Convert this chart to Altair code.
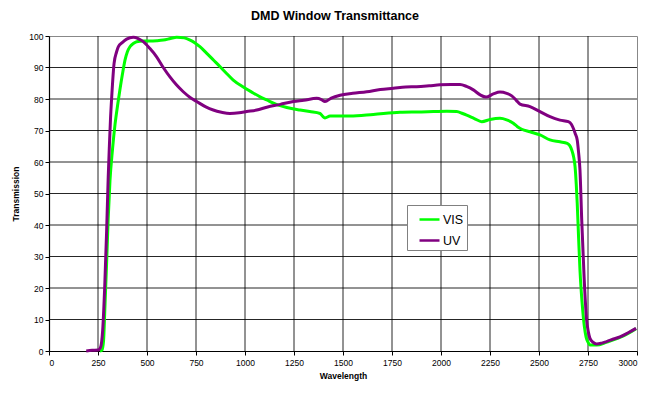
import altair as alt
import pandas as pd

vis_x = [260, 270, 278, 286, 294, 302, 311, 324, 337, 350, 362, 375, 388, 400, 413, 430, 447, 480, 515, 550,
         583, 620, 651, 690, 720, 745, 770, 805, 840, 872, 900, 940, 991, 1040, 1077, 1111, 1160, 1213, 1250,
         1281, 1330, 1383, 1395, 1408, 1434, 1536, 1655, 1791, 1900, 1961, 2030, 2080, 2110, 2131, 2170, 2208,
         2250, 2301, 2335, 2369, 2390, 2412, 2454, 2505, 2556, 2607, 2644, 2657, 2667, 2677, 2684, 2690, 2695,
         2702, 2709, 2716, 2723, 2731, 2740, 2750, 2760, 2794, 2845, 2913, 2955, 2995]
vis_y = [0, 0.3, 3, 15, 28, 42, 54, 64, 72, 78, 83, 88, 92.4, 95, 96.6, 97.6, 98.2, 98.4, 98.4, 98.5,
         98.7, 99.2, 99.6, 99.4, 98.7, 97.8, 96.6, 94.5, 92.3, 90.3, 88.5, 86, 83.8, 82, 80.7, 79.7, 78.3, 77.3, 76.8,
         76.5, 76, 75.4, 74.6, 74, 74.6, 74.6, 75.1, 75.8, 75.9, 76, 76.1, 76, 75.4, 74.9, 73.8, 72.8,
         73.5, 73.9, 73.4, 72.3, 71.2, 70.4, 69.6, 68.6, 67, 66.4, 65.9, 65.2, 63.8, 61.5, 58.5, 53, 46.9,
         36, 25.7, 18.5, 13, 8, 4.5, 2.8, 1.9, 1.9, 2.8, 4.3, 5.6, 7.1]

uv_x = [190, 220, 250, 262, 274, 284, 294, 302, 308, 314, 320, 332, 345, 354, 375, 396, 430, 455, 481, 515,
        549, 583, 617, 650, 685, 720, 754, 800, 838, 880, 923, 970, 1009, 1060, 1111, 1180, 1247, 1300, 1366,
        1390, 1408, 1440, 1485, 1550, 1621, 1690, 1757, 1820, 1876, 1940, 1995, 2050, 2097, 2130, 2165, 2200,
        2230, 2267, 2301, 2335, 2361, 2385, 2403, 2454, 2505, 2556, 2607, 2650, 2665, 2675, 2685, 2695, 2702,
        2709, 2718, 2730, 2743, 2752, 2760, 2775, 2794, 2820, 2845, 2880, 2913, 2955, 2995]
uv_y = [0, 0.2, 0.3, 1, 6.7, 20, 38, 55, 65, 74, 80.7, 91.3, 95, 96.6, 98, 99, 99.6, 99.2, 98.2, 96,
        93.4, 90, 87, 84.5, 82.3, 80.5, 79.2, 77.5, 76.5, 75.8, 75.4, 75.6, 76, 76.5, 77.4, 78.3, 79.2, 79.6, 80.2,
        79.8, 79.2, 80.3, 81.2, 81.8, 82.3, 83, 83.4, 83.8, 83.9, 84.2, 84.5, 84.6, 84.6, 84, 82.9, 81.3,
        80.6, 81.6, 82.2, 81.8, 81, 79.5, 78.4, 77.6, 76, 74.4, 73.3, 72.8, 72, 70.7, 69, 67, 63,
        57.5, 41.6, 23.6, 9.8, 6, 4, 2.8, 2.2, 2.5, 3, 3.8, 4.5, 5.8, 7.2]

x_ticks = list(range(0, 3001, 250))
y_ticks = list(range(0, 101, 10))

series = ["VIS", "UV"]
colors = ["#00FF00", "#800080"]

df = pd.concat([
    pd.DataFrame({"Wavelength": vis_x, "Transmission": vis_y, "Series": "VIS", "order": range(len(vis_x))}),
    pd.DataFrame({"Wavelength": uv_x, "Transmission": uv_y, "Series": "UV", "order": range(len(uv_x))}),
], ignore_index=True)

FONT = "Liberation Sans"
xscale = alt.Scale(domain=[0, 3000], nice=False)
yscale = alt.Scale(domain=[0, 100], nice=False)
xaxis = alt.Axis(values=x_ticks, format="d", title="Wavelength", grid=False)
yaxis = alt.Axis(values=y_ticks, format="d", title="Transmission", grid=False)

vgrid = alt.Chart(pd.DataFrame({"g": x_ticks[1:-1]})).mark_rule(
    color="#000000", strokeWidth=1, opacity=0.85
).encode(x=alt.X("g:Q", scale=xscale, axis=xaxis))

hgrid = alt.Chart(pd.DataFrame({"g": y_ticks[1:-1]})).mark_rule(
    color="#000000", strokeWidth=1, opacity=0.85
).encode(y=alt.Y("g:Q", scale=yscale, axis=yaxis))

lines = alt.Chart(df).mark_line(strokeWidth=3, interpolate="monotone").encode(
    x=alt.X("Wavelength:Q", scale=xscale, axis=xaxis),
    y=alt.Y("Transmission:Q", scale=yscale, axis=yaxis),
    color=alt.Color("Series:N", sort=series,
                    scale=alt.Scale(domain=series, range=colors),
                    legend=alt.Legend(title=None, orient="none", legendX=358, legendY=169,
                                      strokeColor="#808080", padding=3, fillColor="#ffffff",
                                      symbolType="stroke", symbolStrokeWidth=2.5, symbolSize=400,
                                      symbolOffset=8,
                                      labelFontSize=12.5, labelColor="#000", labelFont=FONT,
                                      rowPadding=3, labelOffset=2)),
    order="order:Q",
)

chart = alt.layer(vgrid, hgrid, lines).properties(
    width=588, height=315,
    title=alt.TitleParams("DMD Window Transmittance", font=FONT, fontSize=12.5,
                          fontWeight="bold", color="#000", offset=9, dx=-8),
    autosize=alt.AutoSizeParams(type="none"),
    padding={"left": 41, "top": 28, "right": 26, "bottom": 35},
).configure_view(
    stroke="#888888", strokeWidth=1
).configure_axis(
    domainColor="#000", domainWidth=1.2,
    tickColor="#000", tickSize=4,
    labelFont=FONT, labelFontSize=8.5, labelColor="#000",
    titleFont=FONT, titleFontSize=8.5, titleFontWeight="bold", titleColor="#000",
).configure_axisX(
    labelPadding=3, titlePadding=5
).configure_axisY(
    labelPadding=2, titlePadding=8
)

chart.save("out.html", embed_options={"renderer": "svg", "actions": False})
